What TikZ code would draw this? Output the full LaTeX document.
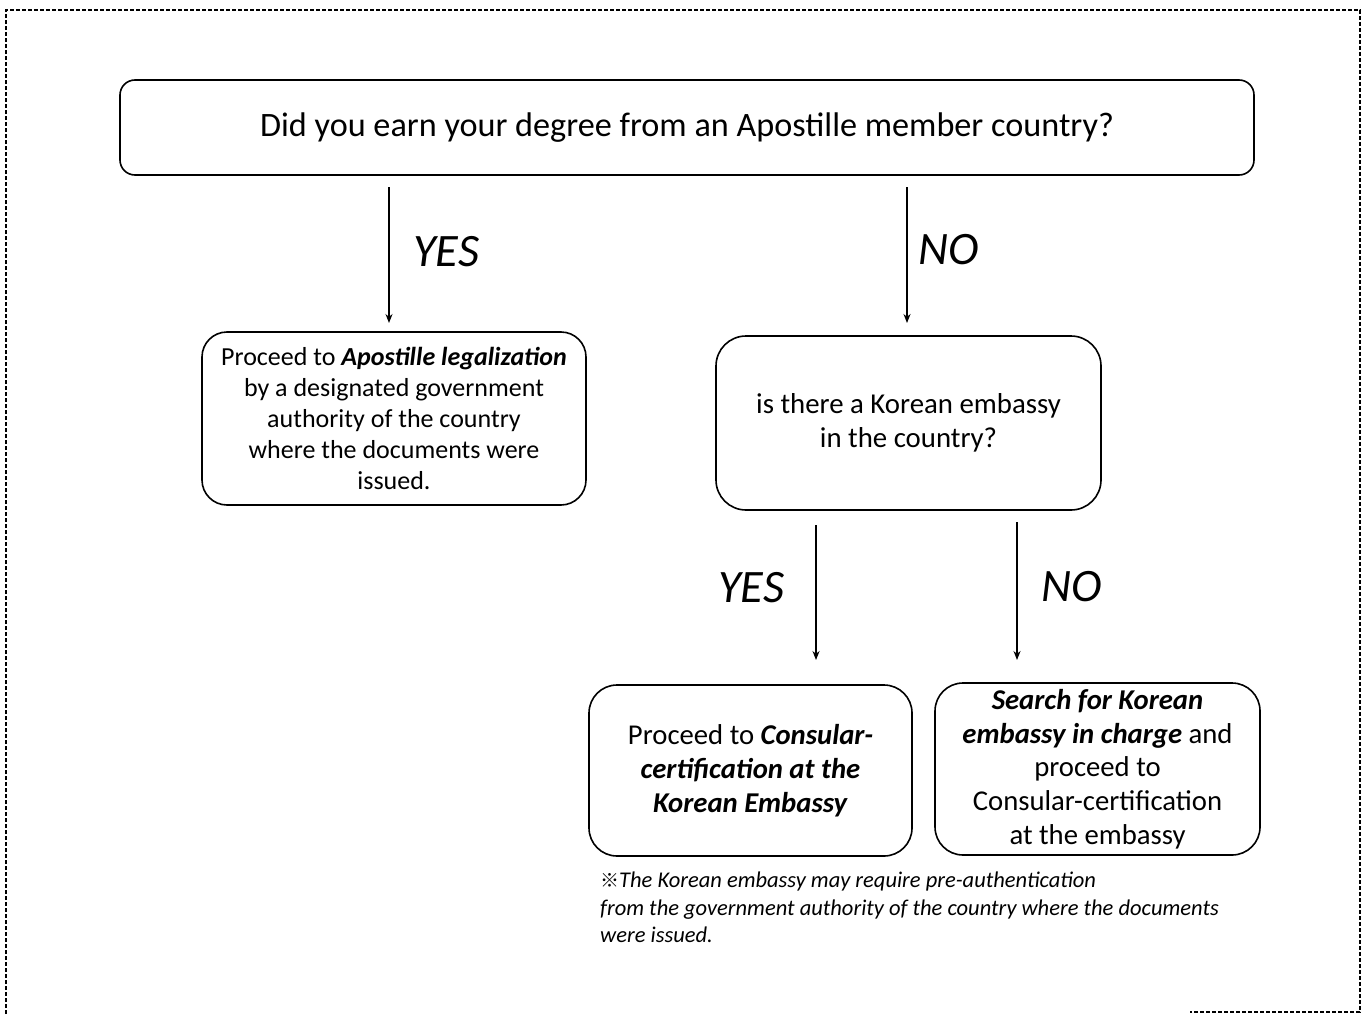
\documentclass[tikz,border=0pt]{standalone}
\usepackage{fontspec}
\setmainfont{Carlito}
\newfontfamily\cjkfont{Noto Sans CJK KR}
\usetikzlibrary{arrows.meta}
\tikzset{
  box/.style={draw, line width=1.6pt, align=center, inner sep=0pt},
  arr/.style={draw, line width=1.3pt, -{Stealth[length=9pt,width=7pt]}},
  lbl/.style={font=\fontsize{46.5}{50}\selectfont\itshape, inner sep=0pt},
  frame/.style={line width=2pt, dash pattern=on 4pt off 2pt},
}
\begin{document}
\begin{tikzpicture}[x=1pt,y=-1pt]
\useasboundingbox (0,0) rectangle (1364,1014);
% dashed frame
\draw[frame] (6,1014) -- (6,10) -- (1360,10) -- (1360,1012) -- (1190,1012);

\node[box, rounded corners=15pt, minimum width=1134pt, minimum height=95pt,
  font=\fontsize{34.2}{38}\selectfont] (top) at (687,127.5)
  {Did you earn your degree from an Apostille member country?};

\node[box, rounded corners=25pt, minimum width=384pt, minimum height=173pt,
  font=\fontsize{26}{31}\selectfont] (apo) at (394,418.5)
  {Proceed to \textbf{\textit{Apostille legalization}}\\
   by a designated government\\
   authority of the country\\
   where the documents were\\
   issued.};

\node[box, rounded corners=30pt, minimum width=385pt, minimum height=174pt,
  font=\fontsize{28.8}{34}\selectfont] (emb) at (908.5,423)
  {is there a Korean embassy\\ in the country?};

\node[box, rounded corners=28pt, minimum width=323pt, minimum height=171pt,
  font=\fontsize{28.7}{34}\selectfont] (cons) at (750.5,770.5)
  {Proceed to \textbf{\textit{Consular-}}\\
   \textbf{\textit{certification at the}}\\
   \textbf{\textit{Korean Embassy}}};

\node[box, rounded corners=28pt, minimum width=325pt, minimum height=172pt,
  font=\fontsize{28.7}{33.75}\selectfont] (search) at (1097.5,769)
  {\textbf{\textit{Search for Korean}}\\
   \textbf{\textit{embassy in charge}} and\\
   proceed to\\
   Consular-certification\\
   at the embassy};

% arrows
\coordinate (a1s) at (389,187);  \coordinate (a1e) at (389,323);
\coordinate (a2s) at (907,187);  \coordinate (a2e) at (907,323);
\coordinate (a3s) at (816,525);  \coordinate (a3e) at (816,660);
\coordinate (a4s) at (1017,522); \coordinate (a4e) at (1017,660);
\draw[arr] (a1s) -- (a1e);
\draw[arr] (a2s) -- (a2e);
\draw[arr] (a3s) -- (a3e);
\draw[arr] (a4s) -- (a4e);

\node[lbl, anchor=west] (yes1) at (413,252) {YES};
\node[lbl, anchor=west] (no1) at (918,250) {NO};
\node[lbl, anchor=west] (yes2) at (718,588) {YES};
\node[lbl, anchor=west] (no2) at (1041,587) {NO};

\node[anchor=north west, align=left, inner sep=0pt,
  font=\fontsize{22.5}{27.5}\selectfont\itshape] (note) at (600,872)
  {{\upshape\cjkfont\fontsize{19}{27.5}\selectfont ※}The Korean embassy may require pre-authentication\\
   from the government authority of the country where the documents\\
   were issued.};
\end{tikzpicture}
\end{document}
